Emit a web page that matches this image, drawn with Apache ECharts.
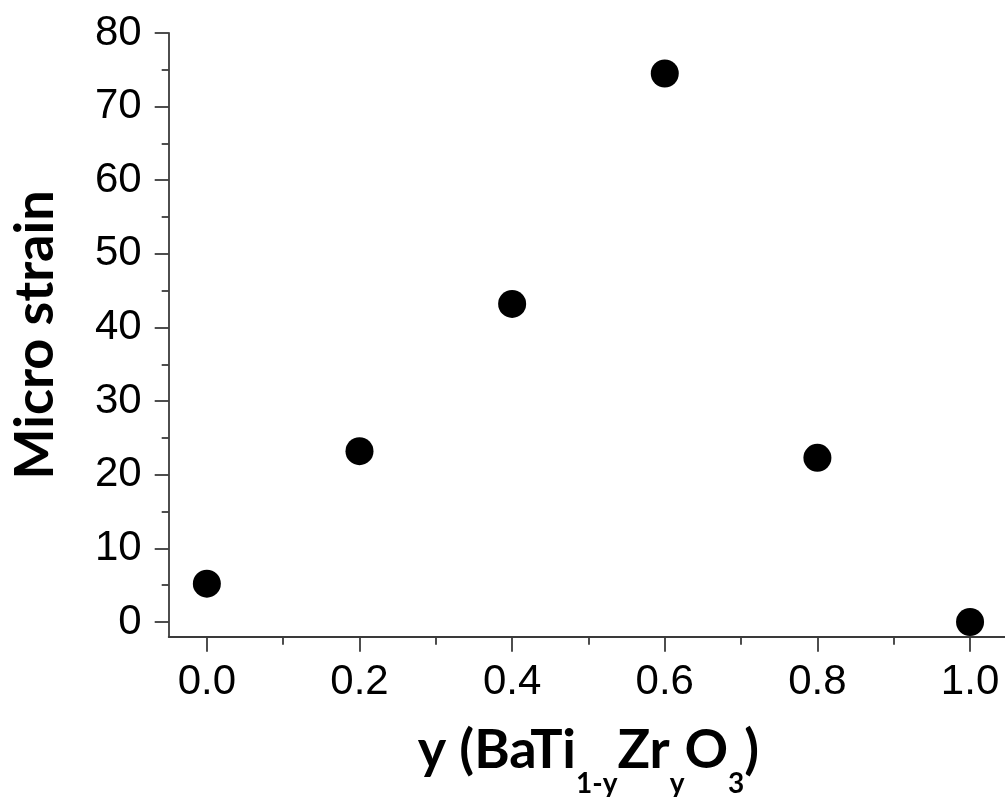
<!DOCTYPE html>
<html>
<head>
<meta charset="utf-8">
<script src="https://cdn.jsdelivr.net/npm/echarts@6/dist/echarts.min.js"></script>
<style>
html,body{margin:0;padding:0;background:#fff;}
#chart{width:1005px;height:797px;}
</style>
</head>
<body>
<div id="chart"></div>
<script>
var xValues = [0.0, 0.2, 0.4, 0.6, 0.8, 1.0];
var yValues = [5.2, 23.2, 43.2, 74.5, 22.3, 0.0];
var xTicks = ['0.0', '0.2', '0.4', '0.6', '0.8', '1.0'];
var xMajor = [0, 0.2, 0.4, 0.6, 0.8, 1.0];
var xMinor = [0.1, 0.3, 0.5, 0.7, 0.9];
var yTicks = [0, 10, 20, 30, 40, 50, 60, 70, 80];
var yMinor = [5, 15, 25, 35, 45, 55, 65, 75];

var points = xValues.map(function (x, i) { return [x, yValues[i]]; });

var chart = echarts.init(document.getElementById('chart'));
var axisColor = '#3a3a3a';
var lw = 1.8;
chart.setOption({
  animation: false,
  backgroundColor: '#ffffff',
  grid: { left: 168.7, right: -3.2, top: 33, bottom: 160.3, containLabel: false, outerBoundsMode: 'none' },
  xAxis: [{
    type: 'value',
    min: -0.05, max: 1.05,
    position: 'bottom',
    axisLine: { onZero: false, lineStyle: { color: axisColor, width: lw } },
    axisTick: { show: true, inside: false, length: 15, lineStyle: { color: axisColor, width: lw },
      customValues: xMajor },
    splitLine: { show: false },
    axisLabel: {
      customValues: xMajor,
      formatter: function (v) { return xTicks[Math.round(v / 0.2)]; },
      fontFamily: 'Liberation Sans', fontSize: 42, color: '#000', margin: 25
    },
    name: '{m|y (BaTi}{s|1-y}{m|Zr}{s|y}{m|O}{s|3}{m|)}',
    nameLocation: 'middle',
    nameGap: 87,
    nameTextStyle: {
      verticalAlign: 'top',
      rich: {
        m: { fontFamily: 'Lato', fontWeight: 'bold', fontSize: 54, color: '#000', verticalAlign: 'top' },
        s: { fontFamily: 'Lato', fontWeight: 'bold', fontSize: 28, color: '#000', verticalAlign: 'top', padding: [46, 0, 0, 0] }
      }
    }
  }, {
    type: 'value',
    min: -0.05, max: 1.05,
    position: 'bottom',
    axisLine: { show: false, onZero: false },
    axisTick: { show: true, inside: false, length: 8, lineStyle: { color: axisColor, width: lw },
      customValues: xMinor },
    axisLabel: { show: false },
    splitLine: { show: false }
  }],
  yAxis: [{
    type: 'value',
    min: -2, max: 80,
    position: 'left',
    axisLine: { show: true, onZero: false, lineStyle: { color: axisColor, width: lw } },
    axisTick: { show: true, inside: false, length: 14, lineStyle: { color: axisColor, width: lw },
      customValues: yTicks },
    splitLine: { show: false },
    axisLabel: {
      customValues: yTicks,
      fontFamily: 'Liberation Sans', fontSize: 42, color: '#000', margin: 27,
      padding: [0, 0, 8, 0]
    },
    name: 'Micro strain',
    nameLocation: 'middle',
    nameRotate: 90,
    nameGap: 106,
    nameTextStyle: { fontFamily: 'Lato', fontWeight: 'bold', fontSize: 54, color: '#000' }
  }, {
    type: 'value',
    min: -2, max: 80,
    position: 'left',
    axisLine: { show: false, onZero: false },
    axisTick: { show: true, inside: false, length: 7, lineStyle: { color: axisColor, width: lw },
      customValues: yMinor },
    axisLabel: { show: false },
    splitLine: { show: false }
  }],
  series: [{
    type: 'scatter',
    xAxisIndex: 0,
    yAxisIndex: 0,
    data: points,
    symbol: 'circle',
    symbolSize: 28,
    itemStyle: { color: '#000', opacity: 1 },
    clip: false
  }]
});
</script>
</body>
</html>
